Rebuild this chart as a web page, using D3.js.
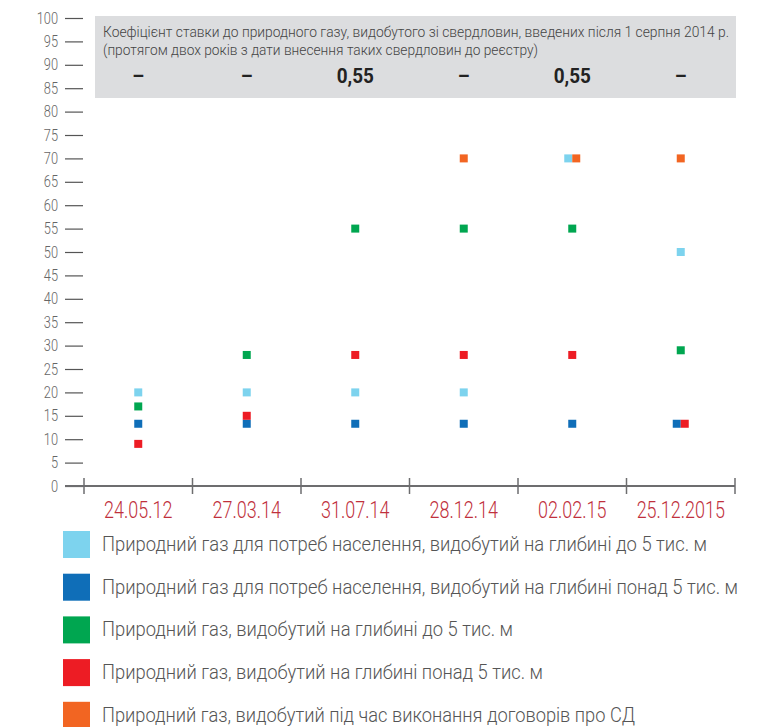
<!DOCTYPE html>
<html lang="uk">
<head>
    <meta charset="UTF-8">
    <title>Коефіцієнт ставки рентної плати за природний газ</title>
    <script src="https://d3js.org/d3.v7.min.js"></script>
    <style>
        body { margin: 0; background: #fff; }
        svg text { font-family: Roboto, "Liberation Sans Narrow", sans-serif; font-weight: 300; }
    </style>
</head>
<body>
<script>
    // Dates of the rate changes (x categories)
    const dates = ["24.05.12", "27.03.14", "31.07.14", "28.12.14", "02.02.15", "25.12.2015"];

    // Rates, % (null = no point)
    const gasPopShallow = [20, 20, 20, 20, 70, 50];
    const gasPopDeep    = [13.3, 13.3, 13.3, 13.3, 13.3, 13.3];
    const gasShallow    = [17, 28, 55, 55, 55, 29];
    const gasDeep       = [9, 15, 28, 28, 28, 13.3];
    const gasPsa        = [null, null, null, 70, 70, 70];

    // Coefficient for new wells, one per date
    const coefValues = ["–", "–", "0,55", "–", "0,55", "–"];

    const seriesNames = [
        "Природний газ для потреб населення, видобутий на глибині до 5 тис. м",
        "Природний газ для потреб населення, видобутий на глибині понад 5 тис. м",
        "Природний газ, видобутий на глибині до 5 тис. м",
        "Природний газ, видобутий на глибині понад 5 тис. м",
        "Природний газ, видобутий під час виконання договорів про СД"
    ];
    const seriesColors = ["#7dd3ee", "#0f6eb8", "#00a650", "#ed1c24", "#f26522"];
    const seriesValues = [gasPopShallow, gasPopDeep, gasShallow, gasDeep, gasPsa];

    const width = 761, height = 727;

    const svg = d3.select("body").append("svg")
        .attr("width", width)
        .attr("height", height);

    // squeeze text horizontally, the original uses a condensed face
    function condense(sel, k) {
        sel.each(function () {
            const w = this.getComputedTextLength();
            d3.select(this).attr("textLength", w * k).attr("lengthAdjust", "spacingAndGlyphs");
        });
    }

    const y = d3.scaleLinear().domain([0, 100]).range([486, 18]);
    const x = d3.scaleBand().domain(dates).range([84, 735]);

    // header box with coefficient
    svg.append("rect")
        .attr("x", 95).attr("y", 16)
        .attr("width", 641).attr("height", 82)
        .attr("fill", "#dcdddf");

    svg.append("text")
        .attr("x", 103).attr("y", 37)
        .attr("font-size", 15).attr("fill", "#444")
        .attr("textLength", 626).attr("lengthAdjust", "spacingAndGlyphs")
        .text("Коефіцієнт ставки до природного газу, видобутого зі свердловин, введених після 1 серпня 2014 р.");
    svg.append("text")
        .attr("x", 103).attr("y", 55)
        .attr("font-size", 15).attr("fill", "#444")
        .attr("textLength", 435).attr("lengthAdjust", "spacingAndGlyphs")
        .text("(протягом двох років з дати внесення таких свердловин до реєстру)");

    svg.append("g").selectAll("text")
        .data(coefValues)
        .join("text")
        .attr("x", (d, i) => x(dates[i]) + x.bandwidth() / 2)
        .attr("y", 83)
        .attr("text-anchor", "middle")
        .attr("font-size", 21).attr("fill", "#222")
        .style("font-weight", "bold")
        .text(d => d)
        .call(condense, 0.9);

    // y axis: short ticks, no domain line
    const yAxis = svg.append("g")
        .attr("transform", "translate(83,0)")
        .call(d3.axisLeft(y).tickValues(d3.range(0, 101, 5)).tickSize(18).tickPadding(7));
    yAxis.select(".domain").remove();
    yAxis.selectAll(".tick line").attr("stroke", "#555").attr("stroke-width", 1.2);
    yAxis.selectAll(".tick text")
        .attr("font-size", 16).attr("fill", "#666")
        .style("font-family", "Roboto, sans-serif")
        .call(condense, 0.8);

    // x axis
    svg.append("line")
        .attr("x1", 65).attr("x2", 735)
        .attr("y1", y(0)).attr("y2", y(0))
        .attr("stroke", "#6d6d6f").attr("stroke-width", 2);

    const bounds = dates.map(d => x(d)).concat([x.range()[1]]);
    svg.append("g").selectAll("line")
        .data(bounds)
        .join("line")
        .attr("x1", d => d).attr("x2", d => d)
        .attr("y1", y(0) - 8).attr("y2", y(0) + 8)
        .attr("stroke", "#6d6d6f").attr("stroke-width", 1.5);

    svg.append("g").selectAll("text")
        .data(dates)
        .join("text")
        .attr("x", d => x(d) + x.bandwidth() / 2)
        .attr("y", 518)
        .attr("text-anchor", "middle")
        .attr("font-size", 23).attr("fill", "#c0303c")
        .text(d => d)
        .call(condense, 0.78);

    // points; coinciding values in one date are placed side by side
    const points = [];
    dates.forEach((d, i) => {
        const here = [];
        seriesValues.forEach((vals, s) => {
            if (vals[i] != null) here.push({ date: d, value: vals[i], s });
        });
        const groups = d3.group(here, p => p.value);
        groups.forEach(g => {
            g.forEach((p, k) => {
                p.dx = (k - (g.length - 1) / 2) * 8;
                points.push(p);
            });
        });
    });

    const size = 8;
    svg.append("g").selectAll("rect")
        .data(points)
        .join("rect")
        .attr("x", p => x(p.date) + x.bandwidth() / 2 + p.dx - size / 2)
        .attr("y", p => y(p.value) - size / 2)
        .attr("width", size).attr("height", size)
        .attr("fill", p => seriesColors[p.s]);

    // legend
    const legendWidths = [605, 636, 411, 441, 533];
    const legend = svg.append("g").selectAll("g")
        .data(seriesNames)
        .join("g")
        .attr("transform", (d, i) => `translate(63,${531 + i * 42.7})`);

    legend.append("rect")
        .attr("width", 27).attr("height", 27)
        .attr("fill", (d, i) => seriesColors[i]);

    legend.append("text")
        .attr("x", 39).attr("y", 20)
        .attr("font-size", 21).attr("fill", "#555")
        .attr("textLength", (d, i) => legendWidths[i]).attr("lengthAdjust", "spacingAndGlyphs")
        .text(d => d);
</script>
</body>
</html>
